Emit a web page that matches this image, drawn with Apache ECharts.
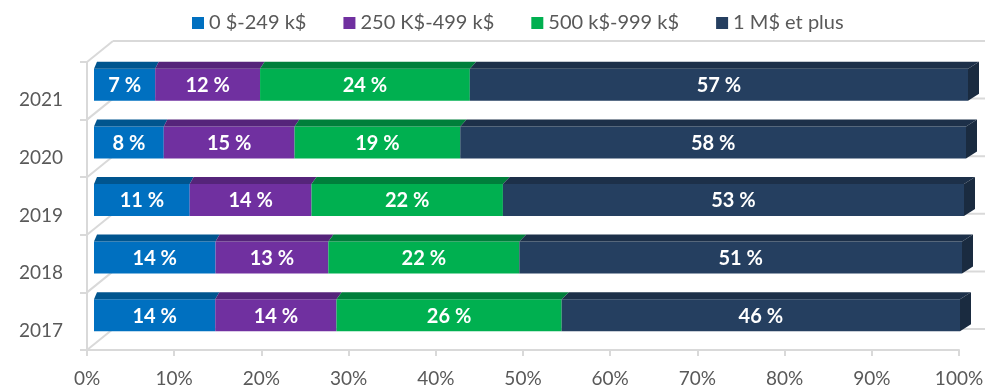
<!DOCTYPE html>
<html>
<head>
<meta charset="utf-8">
<script src="https://cdn.jsdelivr.net/npm/echarts@6/dist/echarts.min.js"></script>
<style>
html,body{margin:0;padding:0;background:#fff;}
#chart{width:987px;height:390px;}
</style>
</head>
<body>
<div id="chart"></div>
<script>
// ---- Data ----
const categories = ['2017', '2018', '2019', '2020', '2021'];
const seriesNames = ['0 $-249 k$', '250 K$-499 k$', '500 k$-999 k$', '1 M$ et plus'];
const band0 = [14, 14, 11, 8, 7];
const band1 = [14, 13, 14, 15, 12];
const band2 = [26, 22, 22, 19, 24];
const band3 = [46, 51, 53, 58, 57];
const xTickValues = [0, 10, 20, 30, 40, 50, 60, 70, 80, 90, 100];

// ---- Styles ----
const frontColors = ['#0070C0', '#7030A0', '#00B050', '#253F60'];
const topColors   = ['#00558F', '#55247A', '#007F3B', '#1D3049'];
const sideColors  = ['#004A7D', '#4A1F6B', '#006B32', '#1A2B40'];
const legendTextWidths = [100, 138, 136, 120];
const gridColor = '#D9D9D9';
const textGrey = '#595959';
const FONT = 'Lato, "Open Sans", sans-serif';

const allBands = [band0, band1, band2, band3];

function buildData(si) {
  return categories.map((c, ci) => {
    let start = 0;
    for (let k = 0; k < si; k++) start += allBands[k][ci];
    return [start, start + allBands[si][ci], ci, allBands[si][ci]];
  });
}

function makeBarRender(si) {
  const isLast = si === allBands.length - 1;
  return function (params, api) {
    const start = api.value(0), end = api.value(1), ci = api.value(2), val = api.value(3);
    const pa = api.coord([0, ci]);
    const pb = api.coord([100, ci]);
    const ps = api.coord([start, ci]);
    const pe = api.coord([end, ci]);
    const xa = pa[0], xb = pb[0];
    const k = -6 + 2 * ci;
    const fx = x => x + 7 + (x - xa) / (xb - xa) * k;
    const ddx = x => 3 + (x - xa) / (xb - xa) * 8;
    const ddy = 7;
    const yc = ps[1] - 6;
    const h = 32;
    const yT = yc - h / 2, yB = yc + h / 2;
    const x0 = fx(ps[0]), x1 = fx(pe[0]);
    const children = [
      { type: 'rect', shape: { x: x0, y: yT, width: x1 - x0, height: h },
        style: { fill: frontColors[si] } },
      { type: 'polygon', shape: { points: [[x0, yT], [x1, yT], [x1 + ddx(pe[0]), yT - ddy], [x0 + ddx(ps[0]), yT - ddy]] },
        style: { fill: topColors[si] } }
    ];
    if (isLast) {
      const d = ddx(pe[0]);
      children.push({ type: 'polygon', shape: { points: [[x1, yT], [x1 + d, yT - ddy], [x1 + d, yB - ddy], [x1, yB]] },
        style: { fill: sideColors[si] } });
    }
    children.push({ type: 'text', x: (x0 + x1) / 2, y: yc + 1,
      style: { text: val + ' %', fill: '#FFFFFF', font: 'bold 20px ' + FONT, align: 'center', verticalAlign: 'middle' } });
    return { type: 'group', children: children };
  };
}

function frameRender(params, api) {
  const DX = 26, DY = 21;
  const c0 = api.coord([0, 0]);
  const bandH = api.size([0, 1])[1];
  const xa = c0[0];
  const xb = api.coord([100, 0])[0];
  const children = [];
  for (let i = 0; i <= categories.length; i++) {
    const yb = c0[1] + bandH / 2 - i * bandH;
    children.push({ type: 'line', shape: { x1: xa, y1: yb, x2: xa + DX, y2: yb - DY },
      style: { stroke: gridColor, lineWidth: 2 } });
    children.push({ type: 'line', shape: { x1: xa + DX, y1: yb - DY, x2: xb + DX, y2: yb - DY },
      style: { stroke: gridColor, lineWidth: 2 } });
  }
  return { type: 'group', children: children };
}

const chart = echarts.init(document.getElementById('chart'), null, { renderer: 'canvas' });

const series = [{
  type: 'custom',
  name: 'frame',
  silent: true,
  renderItem: frameRender,
  data: [[0, 0]],
  encode: { x: 0, y: 1 },
  z: 1
}];
seriesNames.forEach((name, si) => {
  series.push({
    type: 'custom',
    name: name,
    renderItem: makeBarRender(si),
    itemStyle: { color: frontColors[si] },
    data: buildData(si),
    encode: { x: [0, 1], y: 2 },
    z: 2 + si
  });
});

chart.setOption({
  animation: false,
  backgroundColor: '#FFFFFF',
  legend: {
    data: seriesNames.map((n, i) => ({ name: n, textStyle: { width: legendTextWidths[i] } })),
    top: 8,
    left: 187,
    icon: 'rect',
    itemWidth: 12,
    itemHeight: 12,
    itemGap: 37,
    textStyle: { color: textGrey, fontSize: 20, fontFamily: FONT }
  },
  grid: { left: 87, right: 28, top: 62, bottom: 40, containLabel: false },
  xAxis: {
    type: 'value',
    min: 0, max: 100, interval: 10,
    axisLine: { show: true, lineStyle: { color: gridColor, width: 2 } },
    axisTick: { show: true, length: 6, lineStyle: { color: gridColor, width: 2 } },
    splitLine: { show: false },
    axisLabel: {
      color: textGrey, fontSize: 19, fontFamily: FONT, margin: 19,
      customValues: xTickValues,
      formatter: v => v + '%'
    }
  },
  yAxis: {
    type: 'category',
    data: categories,
    axisLine: { show: true, lineStyle: { color: gridColor, width: 2 } },
    axisTick: { show: true, length: 7, lineStyle: { color: gridColor, width: 2 } },
    splitLine: { show: false },
    axisLabel: {
      color: textGrey, fontSize: 19, fontFamily: FONT, margin: 24,
      verticalAlign: 'top'
    }
  },
  series: series
});
</script>
</body>
</html>
